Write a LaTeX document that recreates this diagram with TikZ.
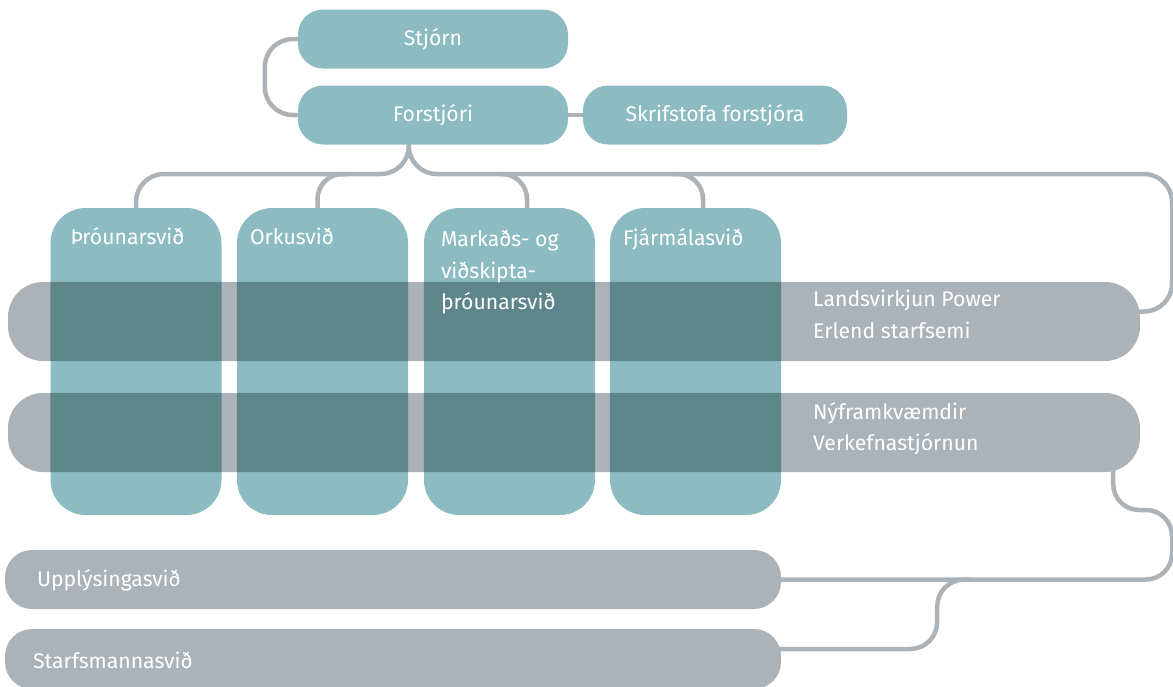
\documentclass[tikz,border=0pt]{standalone}
\usepackage{fontspec}
\setmainfont{Fira Sans}
\usetikzlibrary{calc}
\definecolor{tealc}{HTML}{8CBCC2}
\definecolor{greyc}{HTML}{ABB2B8}
\definecolor{darkc}{HTML}{5E858B}
\pgfdeclarelayer{bg}
\pgfsetlayers{bg,main}
\tikzset{
  tbox/.style={fill=tealc, draw=none, rounded corners=25pt, inner sep=0pt, minimum height=59pt},
  vbox/.style={fill=tealc, draw=none, rounded corners=35pt, inner sep=0pt, minimum width=171pt, minimum height=307pt},
  gbar/.style={fill=greyc, draw=none, rounded corners=35pt, inner sep=0pt, minimum width=1132pt, minimum height=79pt},
  sbar/.style={fill=greyc, draw=none, rounded corners=27pt, inner sep=0pt, minimum width=776pt, minimum height=59pt},
  conn/.style={draw=greyc, line width=4.5pt},
  lbl/.style={text=white, inner sep=0pt, anchor=base west, align=left, font=\fontsize{21.2}{31.7}\selectfont},
  clbl/.style={text=white, inner sep=0pt, font=\fontsize{21.2}{24}\selectfont},
}
\begin{document}
\begin{tikzpicture}[x=1pt, y=-1pt]
\useasboundingbox (0,0) rectangle (1173,686);
% grey bars
\node[gbar] (lvp) at (574,321.5) {};
\node[gbar] (ny) at (574,432.5) {};
\node[sbar] (upl) at (393,579.5) {};
\node[sbar, minimum height=60pt] (sta) at (393,659) {};
% top boxes
\node[tbox, minimum width=270pt] (stjorn) at (433,39) {};
\node[tbox, minimum width=270pt] (forstjori) at (433,115) {};
\node[tbox, minimum width=264pt] (skrif) at (715,115) {};
% vertical boxes
\node[vbox] (thr) at (136,361.5) {};
\node[vbox] (ork) at (322.5,361.5) {};
\node[vbox] (mark) at (509.5,361.5) {};
\node[vbox] (fja) at (695.5,361.5) {};
% overlaps
\foreach \bb in {lvp,ny}{
  \begin{scope}
    \clip[rounded corners=35pt] (\bb.south west) rectangle (\bb.north east);
    \foreach \b in {thr,ork,mark,fja}{
      \fill[darkc, rounded corners=35pt] (\b.south west) rectangle (\b.north east);
    }
  \end{scope}
}
% coordinates
\coordinate (fsplit) at ($(forstjori.south west)+(111,-2)$);
\coordinate (hy) at (0,174);
\coordinate (rx) at (1172,174);
\coordinate (rx2) at (1172,510);
% connectors
\begin{pgfonlayer}{bg}
\draw[conn, rounded corners=28pt] (stjorn.west) -- ++(-33,0) |- (forstjori.west);
\draw[conn] (forstjori.east) -- (skrif.west);
\draw[conn, rounded corners=28pt] (fsplit) |- (thr.north |- hy) -- ($(thr.north)+(0,2)$);
\draw[conn, rounded corners=28pt] (fsplit) |- (rx) |- ($(lvp.east)+(-2,-10)$);
\draw[conn, rounded corners=25pt] ($(ork.north |- hy)+(25,0)$) -| ($(ork.north)+(-5,2)$);
\draw[conn, rounded corners=25pt] ($(mark.north |- hy)+(-10,0)$) -| ($(mark.north)+(17.5,2)$);
\draw[conn, rounded corners=25pt] ($(fja.north |- hy)+(-22.5,0)$) -| ($(fja.north)+(7.5,2)$);
\draw[conn, rounded corners=26pt] ($(ny.south east)+(-27,-10)$) |- (rx2) |- ($(upl.east)+(-2,0)$);
\draw[conn, rounded corners=27pt] ($(upl.east)+(189,0)$) -| ($(sta.east)+(156,-10)$) -- ($(sta.east)+(-2,-10)$);
\end{pgfonlayer}
% labels
\node[clbl] (tstjorn) at (stjorn) {Stjórn};
\node[clbl] (tforstjori) at (forstjori) {Forstjóri};
\node[clbl] (tskrif) at (skrif) {Skrifstofa forstjóra};
\node[lbl] (tthr) at ($(thr.north west)+(20,37)$) {Þróunarsvið};
\node[lbl] (tork) at ($(ork.north west)+(13,37)$) {Orkusvið};
\node[lbl, anchor=north west] (tmark) at ($(mark.north west)+(17,22)$) {Markaðs- og\\viðskipta-\\þróunarsvið};
\node[lbl] (tfja) at ($(fja.north west)+(13,38)$) {Fjármálasvið};
\node[lbl, anchor=north west] (tlvp) at (813,290) {Landsvirkjun Power\\Erlend starfsemi};
\node[lbl, anchor=north west] (tny) at (813,402) {Nýframkvæmdir\\Verkefnastjórnun};
\node[lbl] (tupl) at ($(upl.west)+(32,6.5)$) {Upplýsingasvið};
\node[lbl] (tsta) at ($(sta.west)+(28,9)$) {Starfsmannasvið};
\end{tikzpicture}
\end{document}
